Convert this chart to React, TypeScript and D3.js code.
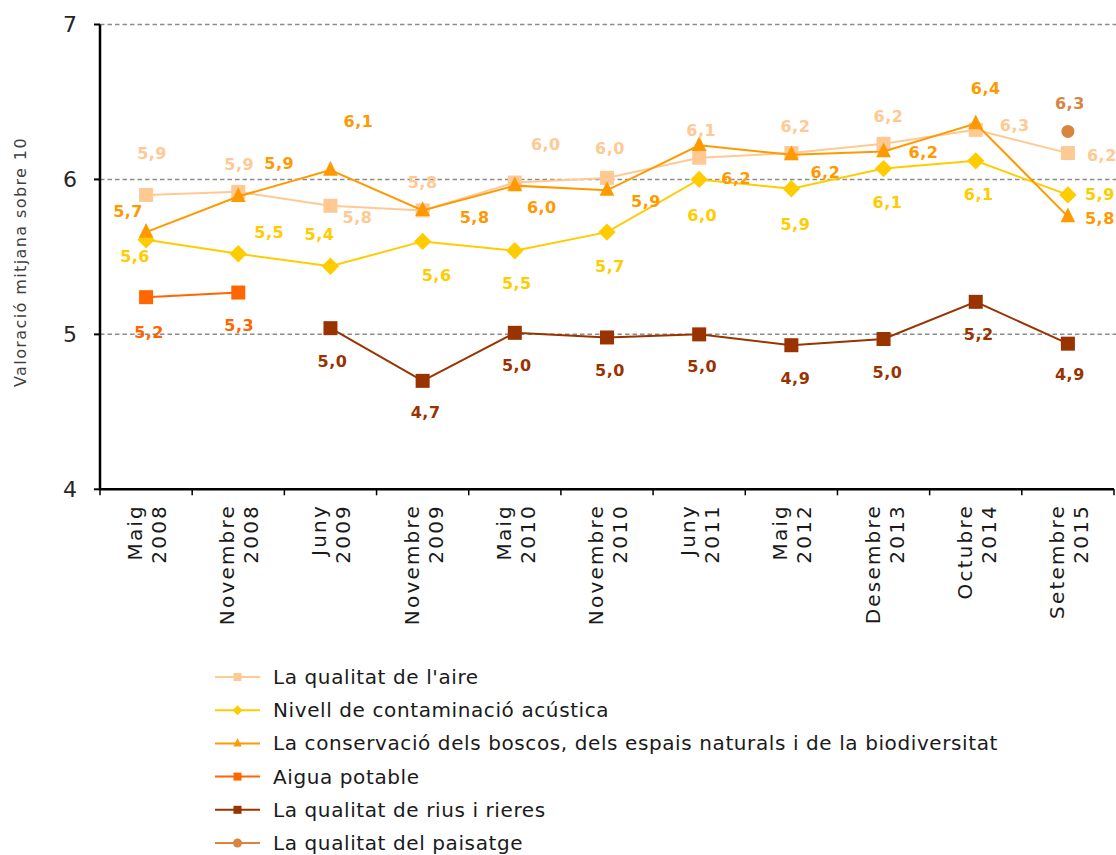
import React from "react";
import * as d3 from "d3";

const categories: string[][] = [
  ["Maig", "2008"], ["Novembre", "2008"], ["Juny", "2009"], ["Novembre", "2009"],
  ["Maig", "2010"], ["Novembre", "2010"], ["Juny", "2011"], ["Maig", "2012"],
  ["Desembre", "2013"], ["Octubre", "2014"], ["Setembre", "2015"],
];
const yTicks = [4, 5, 6, 7];

const airValues = [5.9, 5.92, 5.83, 5.8, 5.98, 6.01, 6.14, 6.17, 6.23, 6.32, 6.17];
const acousticValues = [5.61, 5.52, 5.44, 5.6, 5.54, 5.66, 6.0, 5.94, 6.07, 6.12, 5.9];
const forestValues = [5.66, 5.89, 6.06, 5.8, 5.96, 5.93, 6.22, 6.16, 6.18, 6.36, 5.76];
const waterValues = [5.24, 5.27, null, null, null, null, null, null, null, null, null];
const riverValues = [null, null, 5.04, 4.7, 5.01, 4.98, 5.0, 4.93, 4.97, 5.21, 4.94];
const landscapeValues = [null, null, null, null, null, null, null, null, null, null, 6.31];

const seriesNames = [
  "La qualitat de l'aire",
  "Nivell de contaminació acústica",
  "La conservació dels boscos, dels espais naturals i de la biodiversitat",
  "Aigua potable",
  "La qualitat de rius i rieres",
  "La qualitat del paisatge",
];

// label offsets (manually placed labels in the original)
const airLabelOffsets = [[6, -41], [1, -27], [27, 12], [0, -28], [31, -38], [3, -29], [2, -27], [4, -27], [5, -27], [39, -4], [34, 2]];
const acousticLabelOffsets = [[-11, 17], [31, -21], [-11, -32], [14, 34], [2, 33], [3, 34], [3, 36], [4, 36], [4, 34], [3, 34], [32, 0]];
const forestLabelOffsets = [[-18, -21], [41, -33], [28, -49], [52, 7], [27, 22], [39, 11], [37, 33], [34, 18], [40, 1], [10, -35], [32, 2]];
const waterLabelOffsets = [[3, 35], [1, 33]];
const riverLabelOffsets = [[0, 0], [0, 0], [2, 33], [3, 32], [2, 33], [3, 33], [3, 32], [4, 33], [4, 33], [3, 33], [2, 31]];
const landscapeLabelOffsets = [[0, 0], [0, 0], [0, 0], [0, 0], [0, 0], [0, 0], [0, 0], [0, 0], [0, 0], [0, 0], [2, -28]];

const seriesDefs = [
  { name: seriesNames[0], values: airValues, offsets: airLabelOffsets, color: "#FFC994", shape: "square" },
  { name: seriesNames[1], values: acousticValues, offsets: acousticLabelOffsets, color: "#FFCC00", shape: "diamond" },
  { name: seriesNames[2], values: forestValues, offsets: forestLabelOffsets, color: "#FF9900", shape: "triangle" },
  { name: seriesNames[3], values: waterValues, offsets: waterLabelOffsets, color: "#FF6600", shape: "square" },
  { name: seriesNames[4], values: riverValues, offsets: riverLabelOffsets, color: "#993300", shape: "square" },
  { name: seriesNames[5], values: landscapeValues, offsets: landscapeLabelOffsets, color: "#D9843F", shape: "circle" },
];

const W = 1116;
const H = 855;
const margin = { left: 100 };
const FONT = "'DejaVu Sans', sans-serif";

function Marker({ shape, x, y, size, color }: any) {
  if (shape === "square") {
    return <rect x={x - size / 2} y={y - size / 2} width={size} height={size} fill={color} />;
  }
  if (shape === "diamond") {
    const r = size * 0.62;
    return <path d={`M${x},${y - r}L${x + r},${y}L${x},${y + r}L${x - r},${y}Z`} fill={color} />;
  }
  if (shape === "triangle") {
    const s = size * 1.05;
    return <path d={`M${x},${y - s * 0.62}L${x + s / 2},${y + s * 0.38}L${x - s / 2},${y + s * 0.38}Z`} fill={color} />;
  }
  return <circle cx={x} cy={y} r={size / 2} fill={color} />;
}

const fmt = (v: number) => v.toFixed(1).replace(".", ",");

export default function App() {
  const x = d3
    .scaleBand<number>()
    .domain(categories.map((_, i) => i))
    .range([margin.left, 1114])
    .paddingInner(0)
    .paddingOuter(0);
  const y = d3.scaleLinear().domain([4, 7]).range([489.3, 24.5]);
  const cx = (i: number) => (x(i) as number) + x.bandwidth() / 2;

  const line = d3
    .line<number | null>()
    .defined((d) => d != null)
    .x((_, i) => cx(i))
    .y((d) => y(d as number));

  const tickPositions = [...categories.map((_, i) => x(i) as number), 1114];

  return (
    <svg width={W} height={H} style={{ position: "absolute", left: 0, top: 0, background: "#fff" }} fontFamily={FONT}>
      {/* gridlines */}
      {yTicks.filter((t) => t > 4).map((t) => (
        <line key={t} x1={margin.left} x2={W} y1={y(t)} y2={y(t)} stroke="#8c8c8c" strokeWidth={1.5} strokeDasharray="4.5,3" />
      ))}
      {/* y axis */}
      <line x1={margin.left} x2={margin.left} y1={y(7)} y2={y(4)} stroke="#000" strokeWidth={2.5} />
      {yTicks.map((t) => (
        <g key={t}>
          <line x1={94} x2={margin.left} y1={y(t)} y2={y(t)} stroke="#000" strokeWidth={2} />
          <text x={70} y={y(t)} textAnchor="middle" dominantBaseline="central" fontSize={22} fill="#262626">
            {t}
          </text>
        </g>
      ))}
      {/* x axis */}
      <line x1={margin.left} x2={1114} y1={y(4)} y2={y(4)} stroke="#000" strokeWidth={2.5} />
      {tickPositions.map((p, i) => (
        <line key={i} x1={p} x2={p} y1={y(4)} y2={y(4) + 6} stroke="#000" strokeWidth={1.5} />
      ))}
      {categories.map((c, i) => (
        <text key={i} transform={`translate(${cx(i)},504) rotate(-90)`} textAnchor="end" fontSize={20} letterSpacing={2.2} fill="#1a1a1a">
          <tspan x={0} y={-11} dominantBaseline="central">{c[0]}</tspan>
          <tspan x={0} y={13} dominantBaseline="central">{c[1]}</tspan>
        </text>
      ))}
      {/* y title */}
      <text transform="translate(20,262) rotate(-90)" textAnchor="middle" dominantBaseline="central" fontSize={16} letterSpacing={1.4} fill="#404040">
        Valoració mitjana sobre 10
      </text>

      {/* series */}
      {seriesDefs.map((s, si) => (
        <g key={si}>
          <path d={line(s.values) || ""} fill="none" stroke={s.color} strokeWidth={2} />
          {s.values.map((v, i) =>
            v == null ? null : (
              <Marker key={i} shape={s.shape} x={cx(i)} y={y(v)} size={s.shape === "circle" ? 13 : 14} color={s.color} />
            )
          )}
        </g>
      ))}
      {seriesDefs.map((s, si) => (
        <g key={"l" + si}>
          {s.values.map((v, i) =>
            v == null ? null : (
              <text
                key={i}
                x={cx(i) + s.offsets[i][0]}
                y={y(v) + s.offsets[i][1]}
                textAnchor="middle"
                dominantBaseline="central"
                fontSize={16}
                fontWeight="bold"
                letterSpacing={0.5}
                fill={s.color}
              >
                {fmt(v)}
              </text>
            )
          )}
        </g>
      ))}

      {/* legend */}
      {seriesDefs.map((s, si) => {
        const ly = 677 + si * 33.2;
        return (
          <g key={"lg" + si}>
            <line x1={215} x2={260} y1={ly} y2={ly} stroke={s.color} strokeWidth={2} />
            <Marker shape={s.shape} x={237.5} y={ly} size={s.shape === "circle" ? 9 : 8} color={s.color} />
            <text x={273} y={ly} dominantBaseline="central" fontSize={20} letterSpacing={0.6} fill="#1a1a1a">
              {s.name}
            </text>
          </g>
        );
      })}
    </svg>
  );
}
